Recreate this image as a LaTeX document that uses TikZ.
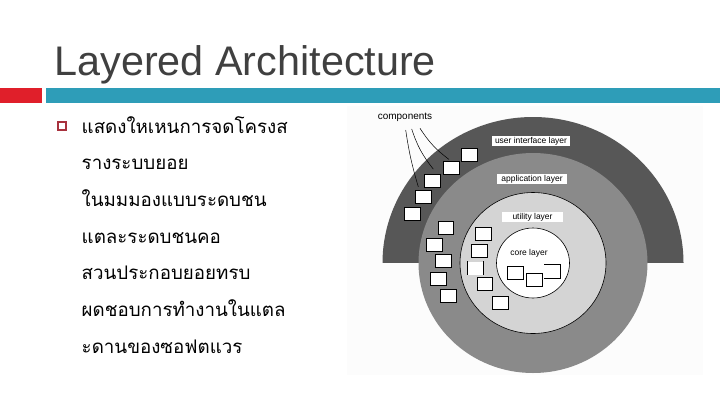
\documentclass[tikz,border=0pt]{standalone}
\usepackage{fontspec}
\setmainfont{Liberation Sans}
\newfontfamily\thaifont[Script=Thai]{Loma}
\usepackage{tikz}
\usetikzlibrary{calc}

\definecolor{slidered}{HTML}{E01F2A}
\definecolor{slideteal}{HTML}{2E9DB8}
\definecolor{titlegray}{HTML}{404040}
\definecolor{bulletred}{HTML}{A8323E}
\definecolor{uigray}{HTML}{575757}
\definecolor{appgray}{HTML}{8A8A8A}
\definecolor{utilgray}{HTML}{D4D4D4}

\tikzset{
  comp/.style={draw, fill=white, line width=0.8bp, minimum width=15.5bp, minimum height=13bp, inner sep=0pt},
  layerlabel/.style={fill=white, inner sep=0pt, minimum height=10bp, font=\fontsize{8.5}{8.5}\selectfont},
  thaitext/.style={anchor=base west, inner sep=0pt, font=\thaifont\fontsize{18.8}{18.8}\selectfont},
}

\begin{document}
\begin{tikzpicture}[x=1bp, y=-1bp]
\useasboundingbox (0,0) rectangle (720,405);

\fill[slidered] (0,88.3) rectangle (41.7,102.7);
\fill[slideteal] (45.7,88.3) rectangle (720,102.7);
\node[anchor=base west, inner sep=0pt, text=titlegray, font=\fontsize{41.5}{41.5}\selectfont] (title) at (54.3,75) {Layered Architecture};

\node[draw=bulletred, line width=2bp, minimum size=7.5bp, inner sep=0pt] (bullet) at (62,126.2) {};
\foreach \t [count=\i from 0] in {แสดงใหเหนการจดโครงส, รางระบบยอย, ในมมมองแบบระดบชน, แตละระดบชนคอ, สวนประกอบยอยทรบ, ผดชอบการทำงานในแตล, ะดานของซอฟตแวร}
  \node[thaitext] (line\i) at (81.5,{133+36.7*\i}) {\t};

\fill[white!99!black] (347,106) rectangle (703,375);
\coordinate (centre) at (533,263);
\begin{scope}
  \clip (347,106) rectangle (703,262);
  \fill[uigray] (centre) ellipse [x radius=150.5, y radius=146];
\end{scope}
\fill[appgray] (centre) ellipse [x radius=114.5, y radius=110];
\filldraw[fill=utilgray, line width=0.6bp] (centre) ellipse [x radius=73, y radius=70.5];
\filldraw[fill=white, line width=0.6bp] (centre) ellipse [x radius=36.5, y radius=35];

\node[layerlabel, minimum width=78bp] (uilabel) at (531,141) {user interface layer};
\node[layerlabel, minimum width=70bp] (applabel) at (532,179) {application layer};
\node[layerlabel, minimum width=61bp] (utillabel) at (532.5,217) {utility layer};
\node[inner sep=0pt, font=\fontsize{8.5}{8.5}\selectfont] (corelabel) at (529,253) {core layer};

\foreach \name/\x/\y in {a/469.2/155, b/451.2/167.8, c/432.5/181, d/423.3/197.2, e/412.5/214,
  f/445.8/227.8, g/434.2/244.7, h/443.3/260.5, i/438.2/279.2, j/448.3/296.3,
  k/483.2/233.7, l/479.2/250.7, n/485/284.3, o/500.3/303.3, p/515.3/272.7, q/534.2/280}
  \node[comp] (comp-\name) at (\x,\y) {};
\node[comp, draw=none] (comp-m) at (475.5,268.3) {};
\draw[line width=0.8bp] (comp-m.north west) -- (comp-m.south west) (comp-m.north east) -- (comp-m.south east);
\node[comp, draw=none] (comp-r) at (552.2,271.7) {};
\draw[line width=0.8bp] (comp-r.north west) -- (comp-r.north east) -- (comp-r.south east) -- (comp-r.south west);

\node[inner sep=0pt, font=\fontsize{10}{10}\selectfont] (complabel) at (405,117) {components};
\coordinate (tail1) at (405.7,130);
\coordinate (tail2) at (411.7,129);
\coordinate (tail3) at (420,128.3);
\draw[line width=0.5bp] (tail1) to[bend right=4] ([shift={(-5,-3.5)}]comp-d.north);
\draw[line width=0.5bp] (tail2) to[bend right=10] ([shift={(0.8,-5)}]comp-c.north);
\draw[line width=0.5bp] (tail3) to[bend right=10] ([shift={(-2.2,-1.5)}]comp-b.north);
\end{tikzpicture}
\end{document}
